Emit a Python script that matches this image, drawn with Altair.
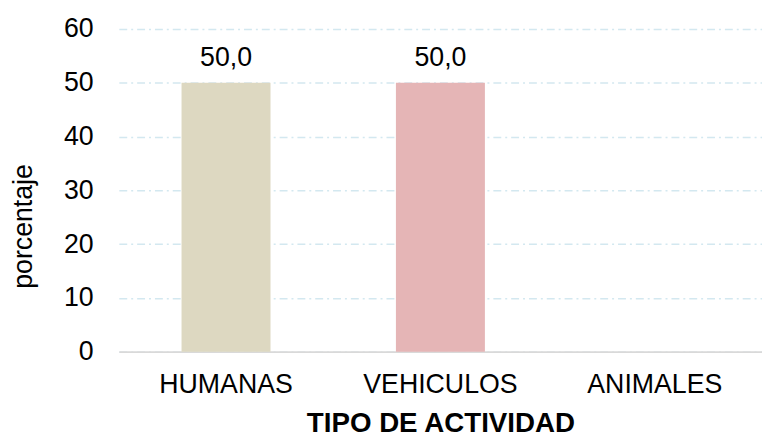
import altair as alt
import pandas as pd

categorias = ["HUMANAS", "VEHICULOS", "ANIMALES"]
porcentajes = [50.0, 50.0, 0.0]
colores = ["#ddd8c1", "#e5b5b6", "#c9d9e8"]

df = pd.DataFrame({"cat": categorias, "v": porcentajes})

x_enc = alt.X("cat:N", sort=categorias, title="TIPO DE ACTIVIDAD",
              scale=alt.Scale(paddingInner=0.585, paddingOuter=0.2925))
y_enc = alt.Y("v:Q", title="porcentaje", scale=alt.Scale(domain=[0, 60]),
              axis=alt.Axis(values=[0, 10, 20, 30, 40, 50, 60]))

bars = alt.Chart(df).mark_bar().encode(
    x=x_enc,
    y=y_enc,
    color=alt.Color("cat:N", sort=categorias,
                    scale=alt.Scale(domain=categorias, range=colores), legend=None),
)

labels = alt.Chart(df).transform_filter("datum.v > 0").transform_calculate(
    lab="replace(format(datum.v, '.1f'), '.', ',')"
).mark_text(baseline="alphabetic", dy=-17, fontSize=27, font="Liberation Sans",
            color="#000000").encode(
    x=x_enc,
    y=y_enc,
    text="lab:N",
)

chart = (bars + labels).properties(
    width=650, height=326,
    background="white",
    autosize=alt.AutoSizeParams(type="none"),
    padding={"left": 112, "top": 19, "right": 0, "bottom": 84},
).configure_view(stroke=None).configure_axis(
    labelFont="Liberation Sans", labelFontSize=27, labelColor="#000000",
    titleFont="Liberation Sans", titleColor="#000000", ticks=False,
).configure_axisX(
    labelAngle=0, labelPadding=20, titleFontSize=28, titleFontWeight="bold",
    titlePadding=13, domain=True, domainColor="#d9d9d9", domainWidth=2, grid=False,
).configure_axisY(
    labelPadding=26, domain=False, grid=True, gridColor="#d3e8f0", gridWidth=1.5,
    gridDash=[8, 4, 2, 4], titleFontSize=27, titleFontWeight="normal", titlePadding=26,
    titleY=199,
)

chart.save("out.html", embed_options={"renderer": "svg", "actions": False})
